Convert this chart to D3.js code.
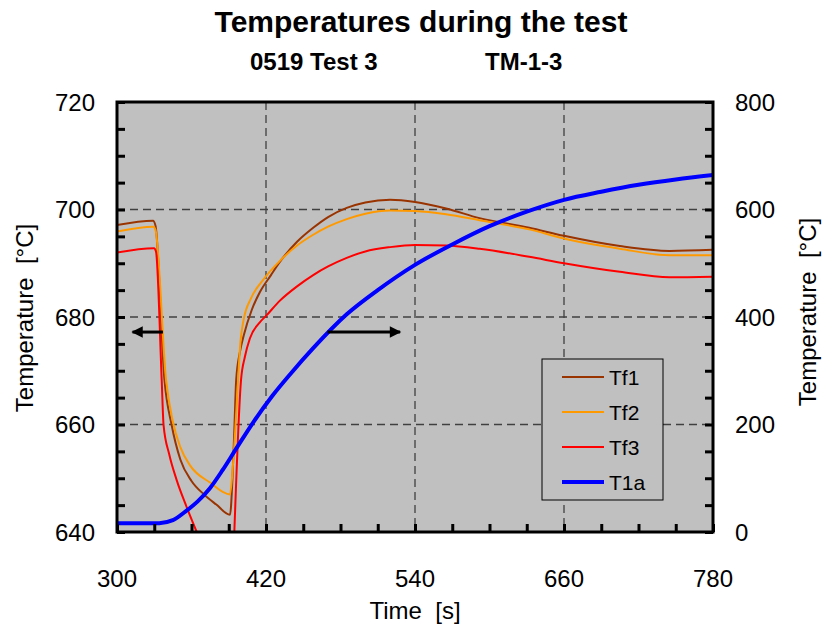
<!DOCTYPE html>
<html>
<head>
<meta charset="utf-8">
<script src="https://cdn.jsdelivr.net/npm/d3@7"></script>
<style>
  html, body { margin: 0; padding: 0; background: #fff; }
  svg { display: block; font-family: "Liberation Sans", Arial, sans-serif; }
</style>
</head>
<body>
<svg id="chart" width="828" height="635"></svg>
<script>
// ---------- data ----------
const title = "Temperatures during the test";
const subtitleLeft = "0519 Test 3";
const subtitleRight = "TM-1-3";
const xLabel = "Time  [s]";
const yLabel = "Temperature  [°C]";
const y2Label = "Temperature  [°C]";

const xTicks = [300, 420, 540, 660, 780];
const yTicks = [640, 660, 680, 700, 720];
const y2Ticks = [0, 200, 400, 600, 800];

// Tf1 (left axis) [time s, temperature °C]
const tf1 = [
  [300, 697.1], [329, 697.9], [331, 697.0], [338.2, 668.3], [344, 659.9],
  [351, 653.5], [360, 649.5], [370, 647.0], [380, 645.1], [391, 643.2],
  [393, 650.0], [394.5, 659.0], [396, 668.3], [399, 673.5], [402, 676.5],
  [408.5, 681.3], [415, 684.6], [424, 687.8], [431, 690.2], [445, 694.0],
  [458, 696.6], [470, 698.6], [485, 700.3], [500, 701.3], [520, 701.8],
  [540, 701.4], [565, 700.2], [592, 698.4], [632, 696.6], [660, 695.1],
  [705, 693.2], [745, 692.3], [780, 692.5]
];
// Tf2 (left axis)
const tf2 = [
  [300, 695.9], [329.3, 696.8], [331, 696.2], [339.5, 668.3], [345, 660.5],
  [351, 655.8], [358.8, 652.4], [374.9, 649.2], [391, 647.0], [393.5, 652.8],
  [396, 662.0], [397.5, 668.3], [399.5, 675.5], [402, 679.5], [408, 683.5],
  [418, 687.0], [431, 690.4], [445, 693.3], [458, 695.3], [470, 696.8],
  [485, 698.2], [500, 699.2], [520, 699.8], [540, 699.7], [565, 699.1],
  [592, 698.0], [632, 696.3], [660, 694.6], [705, 692.7], [745, 691.5],
  [780, 691.5]
];
// Tf3 (left axis); null = leaves the visible range
const tf3 = [
  [300, 692.0], [329.8, 692.8], [331.4, 692.2], [336, 668.3], [337.5, 659.9],
  [342, 654.5], [348, 649.7], [356, 644.7], [364.2, 640.0], null,
  [394.5, 640.0], [399.9, 668.3], [403, 672.6], [407, 676.0], [415, 679.0],
  [420, 680.2], [431, 683.0], [445, 685.7], [458, 687.8], [470, 689.4],
  [485, 691.0], [500, 692.2], [520, 693.0], [540, 693.4], [565, 693.3],
  [592, 692.7], [632, 691.2], [660, 690.0], [705, 688.4], [745, 687.4],
  [780, 687.5]
];
// T1a (right axis)
const t1a = [
  [300, 16.5], [334, 16.5], [345, 22], [355, 38], [365, 57], [375, 82],
  [385, 115], [396, 155], [410, 205], [425, 253], [440, 295], [458, 342],
  [485, 405], [510, 450], [540, 497], [570, 535], [600, 569], [630, 596],
  [660, 618], [690, 633], [720, 646], [750, 656], [780, 664]
];

const seriesNames = ["Tf1", "Tf2", "Tf3", "T1a"];
const seriesColors = ["#993300", "#FF9900", "#FF0000", "#0000FF"];

// annotation arrows in data units: [t start, t end, temperature (left axis)]
const arrowLeft = [337, 312.5, 677.2];
const arrowRight = [469.5, 528, 677.2];

// ---------- layout ----------
const svg = d3.select("#chart");
const L = 117, R = 713, T = 102, B = 532;

const x = d3.scaleLinear().domain([300, 780]).range([L, R]);
const y = d3.scaleLinear().domain([640, 720]).range([B, T]);
const y2 = d3.scaleLinear().domain([0, 800]).range([B, T]);

const font = '"Liberation Sans", Arial, sans-serif';

// plot background
svg.append("rect").attr("x", L).attr("y", T).attr("width", R - L).attr("height", B - T)
  .attr("fill", "#C0C0C0");

// gridlines
const grid = svg.append("g").attr("stroke", "#404040").attr("stroke-width", 1.3)
  .attr("stroke-dasharray", "8,5");
xTicks.slice(1, -1).forEach(v => {
  grid.append("line").attr("x1", x(v)).attr("x2", x(v)).attr("y1", T).attr("y2", B);
});
yTicks.slice(1, -1).forEach(v => {
  grid.append("line").attr("x1", L).attr("x2", R).attr("y1", y(v)).attr("y2", y(v));
});

// clip
svg.append("clipPath").attr("id", "plotclip").append("rect")
  .attr("x", L).attr("y", T).attr("width", R - L).attr("height", B - T);

const lineL = d3.line().defined(d => d !== null)
  .x(d => x(d[0])).y(d => y(d[1])).curve(d3.curveMonotoneX);
const lineR = d3.line().defined(d => d !== null)
  .x(d => x(d[0])).y(d => y2(d[1])).curve(d3.curveMonotoneX);

const plot = svg.append("g").attr("clip-path", "url(#plotclip)");
[tf1, tf2, tf3].forEach((s, i) => {
  plot.append("path").attr("d", lineL(s)).attr("fill", "none")
    .attr("stroke", seriesColors[i]).attr("stroke-width", 2).attr("stroke-linejoin", "round");
});
plot.append("path").attr("d", lineR(t1a)).attr("fill", "none")
  .attr("stroke", seriesColors[3]).attr("stroke-width", 4).attr("stroke-linejoin", "round");

// arrows
const defs = svg.append("defs");
defs.append("marker").attr("id", "ah").attr("viewBox", "0 0 10 10")
  .attr("refX", 9).attr("refY", 5).attr("markerWidth", 4.5).attr("markerHeight", 3.8)
  .attr("orient", "auto").attr("markerUnits", "strokeWidth")
  .append("path").attr("d", "M0,0 L10,5 L0,10 Z").attr("fill", "#000");
[arrowLeft, arrowRight].forEach(a => {
  svg.append("line").attr("x1", x(a[0])).attr("x2", x(a[1]))
    .attr("y1", y(a[2])).attr("y2", y(a[2]))
    .attr("stroke", "#000").attr("stroke-width", 3).attr("marker-end", "url(#ah)");
});

// legend
const lg = svg.append("g");
lg.append("rect").attr("x", 542).attr("y", 359).attr("width", 121).attr("height", 141)
  .attr("fill", "#C0C0C0").attr("stroke", "#000").attr("stroke-width", 1);
seriesNames.forEach((n, i) => {
  const yy = 377 + i * 35;
  lg.append("line").attr("x1", 562).attr("x2", 604).attr("y1", yy).attr("y2", yy)
    .attr("stroke", seriesColors[i]).attr("stroke-width", i === 3 ? 4 : 2);
  lg.append("text").attr("x", 609).attr("y", yy + 7.5).attr("font-size", 21)
    .attr("font-family", font).attr("fill", "#000").text(n);
});

// axes (inward ticks)
function minorTicks(domain, step) {
  const out = [];
  for (let v = domain[0]; v <= domain[1] + 1e-9; v += step) out.push(v);
  return out;
}
const axG = svg.append("g");
const xAxisB = d3.axisTop(x).tickValues(minorTicks([300, 780], 30)).tickSize(8).tickFormat("");
axG.append("g").attr("transform", `translate(0,${B})`).call(xAxisB);
const yAxisL = d3.axisRight(y).tickValues(minorTicks([640, 720], 5)).tickSize(8).tickFormat("");
axG.append("g").attr("transform", `translate(${L},0)`).call(yAxisL);
const yAxisR = d3.axisLeft(y2).tickValues(minorTicks([0, 800], 50)).tickSize(8).tickFormat("");
axG.append("g").attr("transform", `translate(${R},0)`).call(yAxisR);
axG.selectAll(".domain").remove();
axG.selectAll(".tick line").attr("stroke", "#000").attr("stroke-width", 3);

// frame
svg.append("rect").attr("x", L).attr("y", T).attr("width", R - L).attr("height", B - T)
  .attr("fill", "none").attr("stroke", "#000").attr("stroke-width", 3);

// tick labels
const lbl = svg.append("g").attr("font-family", font).attr("font-size", 24).attr("fill", "#000");
xTicks.forEach(v => {
  lbl.append("text").attr("x", x(v)).attr("y", 587).attr("text-anchor", "middle").text(v);
});
yTicks.forEach(v => {
  lbl.append("text").attr("x", 95).attr("y", y(v) + 8.5).attr("text-anchor", "end").text(v);
});
y2Ticks.forEach(v => {
  lbl.append("text").attr("x", 735).attr("y", y2(v) + 8.5).attr("text-anchor", "start").text(v);
});

// axis titles
lbl.append("text").attr("x", 415).attr("y", 619).attr("text-anchor", "middle")
  .style("white-space", "pre").text(xLabel);
lbl.append("text").attr("transform", "translate(33,318) rotate(-90)").attr("text-anchor", "middle")
  .style("white-space", "pre").text(yLabel);
lbl.append("text").attr("transform", "translate(816,312) rotate(-90)").attr("text-anchor", "middle")
  .style("white-space", "pre").text(y2Label);

// titles
svg.append("text").attr("x", 421).attr("y", 32).attr("text-anchor", "middle")
  .attr("font-family", font).attr("font-weight", "bold").attr("font-size", 30).text(title);
svg.append("text").attr("x", 250).attr("y", 70).attr("font-family", font)
  .attr("font-weight", "bold").attr("font-size", 24).text(subtitleLeft);
svg.append("text").attr("x", 485).attr("y", 70).attr("font-family", font)
  .attr("font-weight", "bold").attr("font-size", 24).text(subtitleRight);
</script>
</body>
</html>
